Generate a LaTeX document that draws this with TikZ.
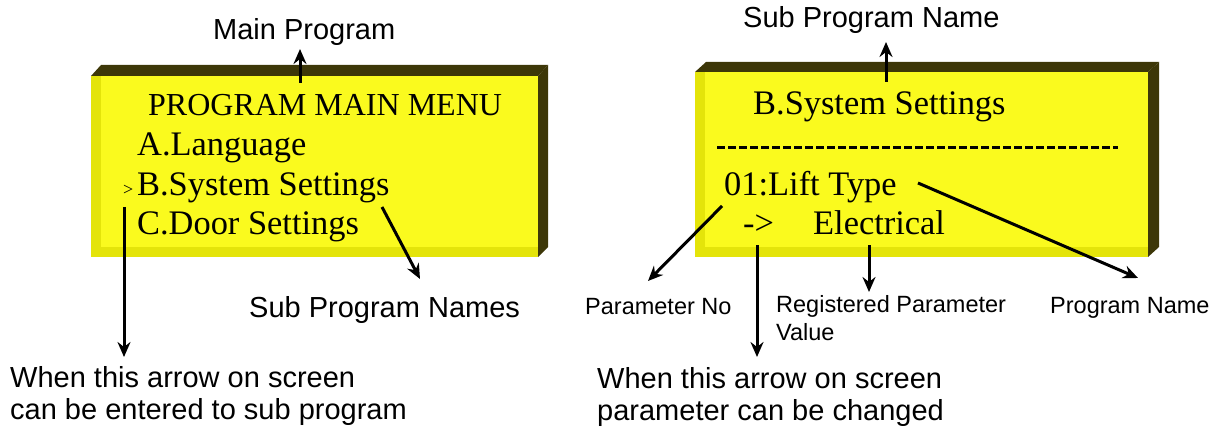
\documentclass[tikz,border=0pt]{standalone}
\usepackage{fontspec}
\setmainfont{Liberation Sans}
\newfontfamily\lcdfont{Liberation Serif}
\usetikzlibrary{arrows.meta}
\definecolor{lcdyellow}{RGB}{250,250,30}
\definecolor{lcdedge}{RGB}{228,228,10}
\definecolor{lcddark}{RGB}{61,55,8}
\tikzset{
  lcdtext/.style={anchor=base west, inner sep=0pt, font=\lcdfont\fontsize{34.4}{40}\selectfont},
  biglabel/.style={anchor=base west, inner sep=0pt, font=\fontsize{29}{33}\selectfont},
  smalllabel/.style={anchor=base west, inner sep=0pt, font=\fontsize{23.5}{27}\selectfont},
  pointer/.style={line width=3pt, -{Stealth[length=15pt,width=13pt,inset=5pt]}},
  front/.style={fill=lcdyellow, draw=none},
  edge/.style={fill=lcdedge, draw=none},
  bevel/.style={fill=lcddark, draw=none}
}
\begin{document}
\begin{tikzpicture}[x=1pt,y=-1pt]
\useasboundingbox (0,0) rectangle (1222,430);

% ---------- left LCD box ----------
\fill[bevel] (91,76) -- (101,65) -- (548,65) -- (538,76) -- cycle;
\fill[bevel] (538,76) -- (548,65) -- (548,247) -- (538,257) -- cycle;
\fill[front] (91,76) rectangle (538,257);
\fill[edge] (91,76) rectangle (101,257);
\fill[edge] (91,247) rectangle (538,257);

\node[lcdtext, font=\lcdfont\fontsize{32}{38}\selectfont] (lt1) at (148,116) {PROGRAM MAIN MENU};
\node[lcdtext] (lt2) at (137,156) {A.Language};
\node[anchor=base west, inner sep=0pt, font=\lcdfont\fontsize{18}{20}\selectfont] (lsel) at (123,196) {>};
\node[lcdtext] (lt3) at (137,196) {B.System Settings};
\node[lcdtext] (lt4) at (137,235) {C.Door Settings};

% ---------- right LCD box ----------
\fill[bevel] (695,72) -- (706,62) -- (1159,62) -- (1148,72) -- cycle;
\fill[bevel] (1148,72) -- (1159,62) -- (1159,247) -- (1148,257) -- cycle;
\fill[front] (695,72) rectangle (1148,257);
\fill[edge] (695,72) rectangle (705,257);
\fill[edge] (695,247) rectangle (1148,257);

\node[lcdtext] (rt1) at (753,115) {B.System Settings};
\draw[line width=3pt, dash pattern=on 8pt off 3pt] (717,148) -- (1118,148);
\node[lcdtext] (rt2) at (724,196) {01:Lift Type};
\node[lcdtext] (rt3) at (743,235) {->};
\node[lcdtext] (rt4) at (813,235) {Electrical};

% ---------- labels ----------
\node[biglabel] (mainprog) at (213,40) {Main Program};
\node[biglabel] (subnames) at (249,317) {Sub Program Names};
\node[biglabel] (enter1) at (10,387) {When this arrow on screen};
\node[biglabel] (enter2) at (10,419) {can be entered to sub program};

\node[biglabel] (subname) at (743,28) {Sub Program Name};
\node[smalllabel] (parno) at (585,314) {Parameter No};
\node[smalllabel] (regval1) at (776,312) {Registered Parameter};
\node[smalllabel] (regval2) at (776,340) {Value};
\node[smalllabel] (progname) at (1050,313) {Program Name};
\node[biglabel] (change1) at (597,388) {When this arrow on screen};
\node[biglabel] (change2) at (597,420) {parameter can be changed};

% ---------- connector end points ----------
\coordinate (mpTail) at (300,83);
\coordinate (mpTip) at (300,49);
\coordinate (selTail) at (124,207);
\coordinate (selTip) at (124,357);
\coordinate (snTail) at (382,207);
\coordinate (snTip) at (420,279);
\coordinate (spTail) at (886,82);
\coordinate (spTip) at (886,42);
\coordinate (pnTail) at (722,206);
\coordinate (pnTip) at (648,281);
\coordinate (chTail) at (757,245);
\coordinate (chTip) at (757,357);
\coordinate (rvTail) at (869,245);
\coordinate (rvTip) at (869,292);
\coordinate (prTail) at (918,183);
\coordinate (prTip) at (1138,278);

\draw[pointer] (mpTail) -- (mpTip);
\draw[pointer] (selTail) -- (selTip);
\draw[pointer] (snTail) -- (snTip);
\draw[pointer] (spTail) -- (spTip);
\draw[pointer] (pnTail) -- (pnTip);
\draw[pointer] (chTail) -- (chTip);
\draw[pointer] (rvTail) -- (rvTip);
\draw[pointer] (prTail) -- (prTip);
\end{tikzpicture}
\end{document}
